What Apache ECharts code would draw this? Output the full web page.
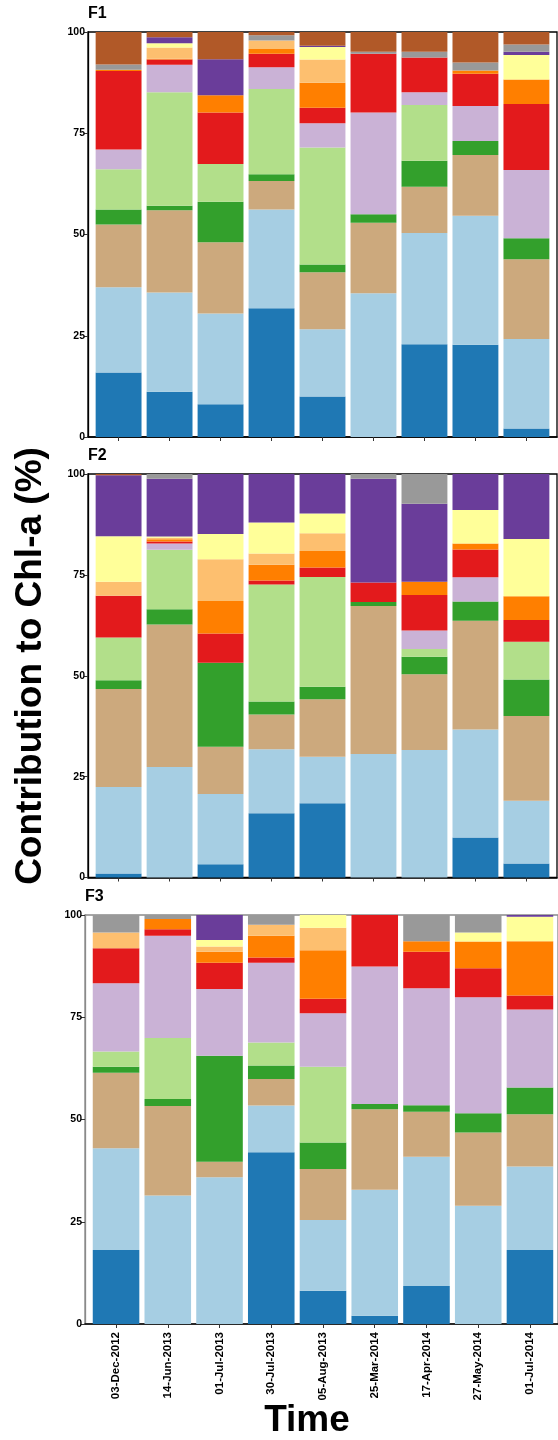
<!DOCTYPE html>
<html><head><meta charset="utf-8">
<script src="https://cdn.jsdelivr.net/npm/echarts@6/dist/echarts.min.js"></script>
<style>html,body{margin:0;padding:0;background:#fff}#c{width:558px;height:1440px}</style>
</head><body><div id="c"></div><script>
const categories = ['03-Dec-2012','14-Jun-2013','01-Jul-2013','30-Jul-2013','05-Aug-2013','25-Mar-2014','17-Apr-2014','27-May-2014','01-Jul-2014'];
const yTicks = [0, 25, 50, 75, 100];
const groupNames = ['Group 1','Group 2','Group 3','Group 4','Group 5','Group 6','Group 7','Group 8','Group 9','Group 10','Group 11','Group 12','Group 13'];
const groupColors = ['#1f78b4','#a6cee3','#cca97d','#33a02c','#b2df8a','#cab2d6','#e31a1c','#ff7f00','#fdbf6f','#ffff99','#6a3d9a','#999999','#b15928'];

// F1
const f1DarkBlue    = [15.9, 11.2, 8.1, 31.8, 10.0, 0, 22.9, 22.8, 2.1];
const f1LightBlue   = [21.1, 24.5, 22.4, 24.4, 16.6, 35.5, 27.5, 31.8, 22.1];
const f1Tan         = [15.5, 20.3, 17.6, 7.0, 14.1, 17.4, 11.4, 15.0, 19.7];
const f1Green       = [3.7, 1.1, 10.0, 1.7, 1.9, 2.1, 6.4, 3.5, 5.2];
const f1LightGreen  = [9.9, 28.0, 9.3, 21.0, 28.9, 0, 13.8, 0, 0];
const f1LightPurple = [4.9, 6.8, 0, 5.4, 6.0, 25.1, 3.1, 8.6, 16.8];
const f1Red         = [19.4, 1.3, 12.7, 3.3, 3.8, 14.5, 8.6, 8.0, 16.3];
const f1Orange      = [0.3, 0.2, 4.3, 1.2, 6.2, 0, 0, 0.8, 6.1];
const f1LightOrange = [0, 2.8, 0, 2.1, 5.7, 0, 0, 0, 0];
const f1Yellow      = [0, 1.0, 0, 0, 3.1, 0, 0, 0, 6.0];
const f1Purple      = [0, 1.5, 8.9, 0, 0.3, 0, 0, 0, 0.8];
const f1Gray        = [1.3, 0, 0, 1.3, 0, 0.5, 1.4, 2.0, 1.8];
const f1Brown       = [8.0, 1.3, 6.7, 0.8, 3.4, 4.9, 4.9, 7.6, 3.1];

// F2
const f2DarkBlue    = [1.0, 0, 3.3, 15.9, 18.4, 0, 0, 9.9, 3.5];
const f2LightBlue   = [21.4, 27.4, 17.4, 15.9, 11.5, 30.6, 31.6, 26.8, 15.5];
const f2Tan         = [24.3, 35.3, 11.7, 8.6, 14.3, 36.7, 18.8, 26.9, 21.0];
const f2Green       = [2.2, 3.8, 20.8, 3.2, 3.1, 1.0, 4.3, 4.8, 9.1];
const f2LightGreen  = [10.6, 14.7, 0, 29.0, 27.2, 0, 1.9, 0, 9.3];
const f2LightPurple = [0, 1.6, 0, 0, 0, 0, 4.6, 6.0, 0];
const f2Red         = [10.3, 0.5, 7.3, 1.0, 2.3, 4.8, 8.8, 6.9, 5.4];
const f2Orange      = [0, 0.5, 8.0, 3.9, 4.1, 0, 3.3, 1.5, 5.9];
const f2LightOrange = [3.5, 0.4, 10.4, 2.8, 4.4, 0, 0, 0, 0];
const f2Yellow      = [11.3, 0.3, 6.2, 7.7, 4.9, 0, 0, 8.3, 14.2];
const f2Purple      = [15.1, 14.3, 14.9, 12.1, 9.8, 25.7, 19.3, 8.9, 16.1];
const f2Gray        = [0, 1.2, 0, 0, 0, 1.2, 7.4, 0, 0];
const f2Brown       = [0.3, 0, 0, 0, 0, 0, 0, 0, 0];

// F3
const f3DarkBlue    = [18.1, 0, 0, 42.0, 8.1, 2.0, 9.3, 0, 18.1];
const f3LightBlue   = [24.9, 31.4, 35.9, 11.4, 17.3, 30.8, 31.6, 28.9, 20.4];
const f3Tan         = [18.4, 21.9, 3.8, 6.5, 12.5, 19.7, 11.0, 17.9, 12.8];
const f3Green       = [1.5, 1.7, 25.9, 3.3, 6.5, 1.3, 1.6, 4.7, 6.5];
const f3LightGreen  = [3.7, 14.9, 0, 5.6, 18.5, 0, 0, 0, 0];
const f3LightPurple = [16.7, 25.0, 16.3, 19.5, 13.1, 33.6, 28.6, 28.4, 19.1];
const f3Red         = [8.6, 1.6, 6.4, 1.3, 3.5, 12.6, 8.9, 7.1, 3.4];
const f3Orange      = [0, 2.5, 2.7, 5.3, 11.9, 0, 2.6, 6.5, 13.3];
const f3LightOrange = [3.8, 0, 1.3, 2.7, 5.5, 0, 0, 0, 0];
const f3Yellow      = [0, 0, 1.6, 0, 3.1, 0, 0, 2.2, 6.0];
const f3Purple      = [0, 0, 6.1, 0, 0, 0, 0, 0, 0.4];
const f3Gray        = [4.3, 1.0, 0, 2.4, 0, 0, 6.4, 4.3, 0];
const f3Brown       = [0, 0, 0, 0, 0, 0, 0, 0, 0];

const panels = [
  [f1DarkBlue,f1LightBlue,f1Tan,f1Green,f1LightGreen,f1LightPurple,f1Red,f1Orange,f1LightOrange,f1Yellow,f1Purple,f1Gray,f1Brown],
  [f2DarkBlue,f2LightBlue,f2Tan,f2Green,f2LightGreen,f2LightPurple,f2Red,f2Orange,f2LightOrange,f2Yellow,f2Purple,f2Gray,f2Brown],
  [f3DarkBlue,f3LightBlue,f3Tan,f3Green,f3LightGreen,f3LightPurple,f3Red,f3Orange,f3LightOrange,f3Yellow,f3Purple,f3Gray,f3Brown]
];
const panelTitles = ['F1','F2','F3'];

const FONT = '"Liberation Sans", Arial, sans-serif';
const W = 558;
const frames = [
  {left: 88, right: 1, top: 32, height: 405, frame: '#000', yLine: '#000'},
  {left: 88, right: 1, top: 474, height: 403.5, frame: '#000', yLine: '#000'},
  {left: 85, right: -3, top: 915, height: 409, frame: '#8a8a8a', yLine: '#8a8a8a'}
];
// ggplot-style expansion: 0.6 category units on each side instead of 0.5
const inset = f => (W - f.left - f.right) / 9.2 * 0.1;

const grid = [];
const xAxis = [];
const yAxis = [];
frames.forEach((f, p) => {
  // frame grid (index 2p), data grid (index 2p+1)
  grid.push({left: f.left, right: f.right, top: f.top, height: f.height, show: true,
    borderColor: f.frame, borderWidth: 1.3, backgroundColor: 'transparent'});
  const d = inset(f);
  grid.push({left: f.left + d, right: f.right + d, top: f.top, height: f.height});
  xAxis.push({type: 'value', gridIndex: 2 * p, min: 0, max: 1, show: true,
    splitLine: {show: false}, axisTick: {show: false}, axisLabel: {show: false},
    axisLine: {show: true, onZero: false, lineStyle: {color: '#000', width: 1.5}}});
  yAxis.push({type: 'value', gridIndex: 2 * p, min: 0, max: 100, interval: 25,
    splitLine: {show: false},
    axisLine: {show: true, lineStyle: {color: f.yLine, width: 1.3}},
    axisTick: {show: true, length: 4, lineStyle: {color: '#333'}},
    axisLabel: {fontFamily: FONT, fontWeight: 'bold', fontSize: 10.5, color: '#000', margin: 3,
      formatter: v => yTicks.indexOf(v) >= 0 ? String(v) : ''}});
  xAxis.push({type: 'category', gridIndex: 2 * p + 1, data: categories, boundaryGap: true,
    axisLine: {show: false},
    axisTick: {show: true, alignWithLabel: true, length: 4, lineStyle: {color: '#333'}},
    axisLabel: {show: p === 2, rotate: 90, margin: 8, fontFamily: FONT, fontWeight: 'bold', fontSize: 11.5, color: '#000', interval: 0},
    splitLine: {show: false}});
  yAxis.push({type: 'value', gridIndex: 2 * p + 1, min: 0, max: 100, show: false, splitLine: {show: false}});
});

const series = [];
panels.forEach((groups, p) => {
  groups.forEach((arr, gi) => {
    series.push({
      type: 'bar', name: groupNames[gi], xAxisIndex: 2 * p + 1, yAxisIndex: 2 * p + 1, stack: 'panel' + p,
      barWidth: '90%', itemStyle: {color: groupColors[gi]},
      data: arr
    });
  });
});
const titleTops = [6, 448, 889];
const graphic = [
  ...panelTitles.map((t, p) => ({type: 'text', left: frames[p].left, top: titleTops[p],
    style: {text: t, font: 'bold 16px ' + FONT, fill: '#000'}})),
  {type: 'text', x: 31, y: 666, rotation: Math.PI / 2,
    style: {text: 'Contribution to Chl-a (%)', font: 'bold 37px ' + FONT, fill: '#000', align: 'center', verticalAlign: 'middle'}},
  {type: 'text', x: 307, y: 1421,
    style: {text: 'Time', font: 'bold 37px ' + FONT, fill: '#000', align: 'center', verticalAlign: 'middle'}}
];
const chart = echarts.init(document.getElementById('c'), null, {renderer: 'canvas'});
chart.setOption({animation: false, backgroundColor: '#fff', grid, xAxis, yAxis, series, graphic});
</script></body></html>
